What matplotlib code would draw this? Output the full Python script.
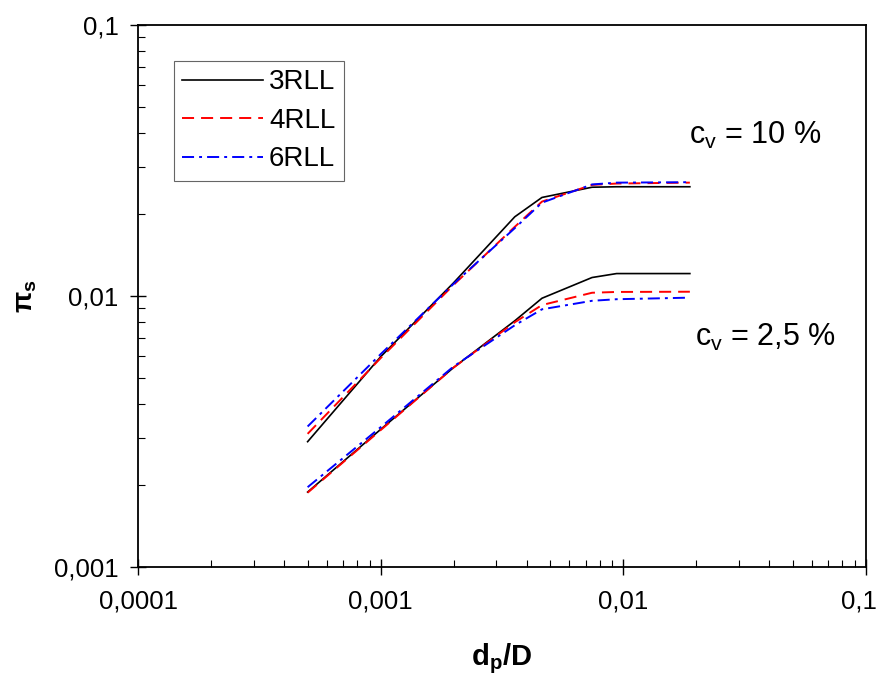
import matplotlib
matplotlib.use("Agg")
import matplotlib.pyplot as plt
import matplotlib.transforms as mtransforms
from matplotlib.ticker import FixedLocator, FixedFormatter, LogLocator, NullFormatter

plt.rcParams['font.family'] = ['Liberation Sans', 'DejaVu Sans']
plt.rcParams['mathtext.fontset'] = 'custom'
plt.rcParams['mathtext.rm'] = 'Liberation Sans'
plt.rcParams['mathtext.it'] = 'Liberation Sans'
plt.rcParams['mathtext.bf'] = 'Liberation Sans:bold'

# data
dp_D = [0.0005, 0.001, 0.002, 0.00357, 0.00462, 0.00743, 0.00938, 0.0188]

cv10_3RLL = [0.0029, 0.00597, 0.0112, 0.0196, 0.0231, 0.0252, 0.0253, 0.0253]
cv10_4RLL = [0.0031, 0.0059, 0.0110, 0.0180, 0.0223, 0.0257, 0.0260, 0.0262]
cv10_6RLL = [0.0033, 0.0061, 0.0111, 0.0178, 0.0221, 0.0258, 0.0262, 0.0263]

cv25_3RLL = [0.00189, 0.00322, 0.00545, 0.0081, 0.00981, 0.0117, 0.0121, 0.0121]
cv25_4RLL = [0.00188, 0.00320, 0.00545, 0.0080, 0.00926, 0.01028, 0.01035, 0.01037]
cv25_6RLL = [0.00197, 0.00328, 0.00550, 0.0078, 0.00893, 0.00960, 0.00973, 0.00986]

series_labels = ['3RLL', '4RLL', '6RLL']
xticks = [0.0001, 0.001, 0.01, 0.1]
xticklabels = ['0,0001', '0,001', '0,01', '0,1']
yticks = [0.001, 0.01, 0.1]
yticklabels = ['0,001', '0,01', '0,1']
annot_top = 'c$_\\mathregular{v}$ = 10 %'
annot_bot = 'c$_\\mathregular{v}$ = 2,5 %'

fig = plt.figure(figsize=(8.82, 6.75), dpi=100)
ax = fig.add_axes([138/882, 1-567/675, (866-138)/882, (567-25)/675])
ax.set_xscale('log')
ax.set_yscale('log')
ax.set_xlim(1e-4, 0.1)
ax.set_ylim(1e-3, 0.1)

s_black = dict(color='black', lw=1.2, linestyle='-')
s_red = dict(color='#ff0000', lw=1.4, linestyle=(0, (6.2, 3.6)))
s_blue = dict(color='#0000ff', lw=1.4, linestyle=(0, (6.2, 2.6, 1.5, 2.6)))

l1, = ax.plot(dp_D, cv10_3RLL, **s_black)
l2, = ax.plot(dp_D, cv10_4RLL, **s_red)
l3, = ax.plot(dp_D, cv10_6RLL, **s_blue)
ax.plot(dp_D, cv25_3RLL, **s_black)
ax.plot(dp_D, cv25_4RLL, **s_red)
ax.plot(dp_D, cv25_6RLL, **s_blue)

ax.xaxis.set_major_locator(FixedLocator(xticks))
ax.xaxis.set_major_formatter(FixedFormatter(xticklabels))
ax.yaxis.set_major_locator(FixedLocator(yticks))
ax.yaxis.set_major_formatter(FixedFormatter(yticklabels))
ax.xaxis.set_minor_locator(LogLocator(base=10, subs=range(2, 10), numticks=20))
ax.yaxis.set_minor_locator(LogLocator(base=10, subs=range(2, 10), numticks=20))
ax.xaxis.set_minor_formatter(NullFormatter())
ax.yaxis.set_minor_formatter(NullFormatter())

ax.tick_params(which='major', direction='inout', length=12, width=1.0,
               labelsize=18.5, top=False, right=False)
ax.tick_params(axis='x', which='major', pad=10)
ax.tick_params(axis='y', which='major', pad=8)
ax.tick_params(which='minor', direction='in', length=5, width=0.8,
               top=False, right=False)
for sp in ax.spines.values():
    sp.set_linewidth(1.3)

# nudge the rightmost x tick label inward, as in the reference
fig.canvas.draw()
last_lbl = ax.get_xticklabels()[-1]
last_lbl.set_transform(last_lbl.get_transform() +
                       mtransforms.ScaledTranslation(-7/100, 0, fig.dpi_scale_trans))

ax.set_xlabel('d$_\\mathbf{p}$/D', fontsize=21, fontweight='bold', labelpad=20)
ax.set_ylabel('π$_\\mathbf{s}$', fontsize=20, fontweight='bold', labelpad=11)

ax.text((689-138)/728, (567-144)/542, annot_top, transform=ax.transAxes,
        fontsize=22, va='baseline', ha='left')
ax.text((695-138)/728, (567-346)/542, annot_bot, transform=ax.transAxes,
        fontsize=22, va='baseline', ha='left')

leg = ax.legend([l1, l2, l3], series_labels, loc='upper left',
                bbox_to_anchor=((174-138)/728, (567-61)/542),
                fontsize=20, frameon=True, fancybox=False, shadow=False,
                handlelength=2.9, handletextpad=0.22, labelspacing=0.45,
                borderpad=0.3, borderaxespad=0.0)
leg.get_frame().set_edgecolor('#404040')
leg.get_frame().set_linewidth(0.8)

fig.savefig('out.png', dpi=100)
